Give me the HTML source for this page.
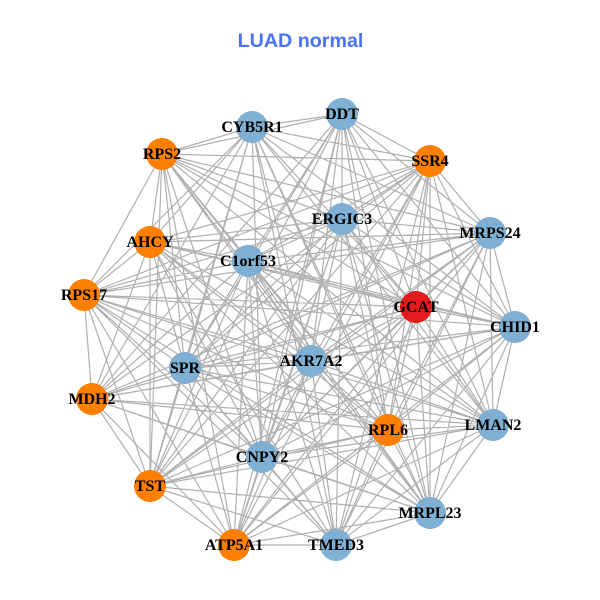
<!DOCTYPE html>
<html><head><meta charset="utf-8"><style>
html,body{margin:0;padding:0;background:#fff}
svg{display:block}
.n text{font:bold 16px "Liberation Serif",serif;text-anchor:middle;fill:#000}
</style></head><body>
<svg width="600" height="600" viewBox="0 0 600 600" xmlns="http://www.w3.org/2000/svg">
<rect width="600" height="600" fill="#fff"/>
<text x="300.5" y="47" text-anchor="middle" style="font:bold 19.7px 'Liberation Sans',sans-serif" fill="#4a72f2">LUAD normal</text>
<path fill="none" stroke="#b0b0b0" stroke-width="1.2" d="
M342 114L252 127M342 114L162 154M342 114L430 161M342 114L342 219M342 114L490 233M342 114L248 261M342 114L416 307M342 114L515 327M342 114L311 361M342 114L185 368M342 114L92 399M342 114L493 425M342 114L388 430M342 114L262 457M342 114L150 486M342 114L430 513M342 114L234 545
M252 127L162 154M252 127L430 161M252 127L490 233M252 127L150 242M252 127L84 295M252 127L416 307M252 127L515 327M252 127L311 361M252 127L185 368M252 127L92 399M252 127L493 425M252 127L388 430M252 127L262 457M252 127L150 486M252 127L430 513M252 127L336 545
M162 154L430 161M162 154L342 219M162 154L490 233M162 154L150 242M162 154L248 261M162 154L84 295M162 154L416 307M162 154L515 327M162 154L311 361M162 154L185 368M162 154L493 425M162 154L388 430M162 154L262 457M162 154L150 486M162 154L430 513M162 154L234 545
M430 161L342 219M430 161L490 233M430 161L150 242M430 161L248 261M430 161L84 295M430 161L416 307M430 161L515 327M430 161L311 361M430 161L185 368M430 161L92 399M430 161L493 425M430 161L388 430M430 161L262 457M430 161L150 486M430 161L430 513M430 161L234 545M430 161L336 545
M342 219L490 233M342 219L150 242M342 219L248 261M342 219L84 295M342 219L416 307M342 219L515 327M342 219L311 361M342 219L185 368M342 219L493 425M342 219L388 430M342 219L262 457M342 219L150 486M342 219L430 513M342 219L234 545M342 219L336 545
M490 233L150 242M490 233L248 261M490 233L84 295M490 233L416 307M490 233L515 327M490 233L311 361M490 233L185 368M490 233L92 399M490 233L493 425M490 233L388 430M490 233L262 457M490 233L150 486M490 233L430 513M490 233L234 545M490 233L336 545
M150 242L248 261M150 242L84 295M150 242L416 307M150 242L515 327M150 242L311 361M150 242L185 368M150 242L92 399M150 242L493 425M150 242L388 430M150 242L262 457M150 242L150 486M150 242L430 513M150 242L234 545M150 242L336 545
M248 261L84 295M248 261L416 307M248 261L515 327M248 261L311 361M248 261L185 368M248 261L92 399M248 261L493 425M248 261L388 430M248 261L262 457M248 261L150 486M248 261L430 513M248 261L234 545M248 261L336 545
M84 295L416 307M84 295L515 327M84 295L311 361M84 295L185 368M84 295L92 399M84 295L493 425M84 295L388 430M84 295L262 457M84 295L150 486M84 295L430 513M84 295L234 545M84 295L336 545
M416 307L515 327M416 307L311 361M416 307L185 368M416 307L92 399M416 307L493 425M416 307L388 430M416 307L262 457M416 307L150 486M416 307L430 513M416 307L234 545M416 307L336 545
M515 327L311 361M515 327L185 368M515 327L92 399M515 327L493 425M515 327L388 430M515 327L262 457M515 327L150 486M515 327L430 513M515 327L234 545M515 327L336 545
M311 361L185 368M311 361L92 399M311 361L493 425M311 361L388 430M311 361L262 457M311 361L150 486M311 361L430 513M311 361L234 545M311 361L336 545
M185 368L92 399M185 368L493 425M185 368L388 430M185 368L262 457M185 368L150 486M185 368L430 513M185 368L234 545M185 368L336 545
M92 399L493 425M92 399L388 430M92 399L262 457M92 399L150 486M92 399L430 513M92 399L234 545
M493 425L388 430M493 425L262 457M493 425L150 486M493 425L430 513M493 425L234 545M493 425L336 545
M388 430L262 457M388 430L150 486M388 430L430 513M388 430L234 545M388 430L336 545
M262 457L150 486M262 457L430 513M262 457L234 545M262 457L336 545
M150 486L430 513M150 486L234 545M150 486L336 545
M430 513L234 545M430 513L336 545
M234 545L336 545"/>
<g fill="#7fb0d3" shape-rendering="crispEdges">
<circle cx="342" cy="114" r="16"/><circle cx="252" cy="127" r="16"/><circle cx="342" cy="219" r="16"/><circle cx="490" cy="233" r="16"/><circle cx="248" cy="261" r="16"/><circle cx="515" cy="327" r="16"/><circle cx="311" cy="361" r="16"/><circle cx="185" cy="368" r="16"/><circle cx="493" cy="425" r="16"/><circle cx="262" cy="457" r="16"/><circle cx="430" cy="513" r="16"/><circle cx="336" cy="545" r="16"/>
</g>
<g fill="#ff7f00" shape-rendering="crispEdges">
<circle cx="162" cy="154" r="16"/><circle cx="430" cy="161" r="16"/><circle cx="150" cy="242" r="16"/><circle cx="84" cy="295" r="16"/><circle cx="92" cy="399" r="16"/><circle cx="388" cy="430" r="16"/><circle cx="150" cy="486" r="16"/><circle cx="234" cy="545" r="16"/>
</g>
<circle cx="416" cy="307" r="16" fill="#e41a1c" shape-rendering="crispEdges"/>
<g class="n">
<text x="342" y="119">DDT</text>
<text x="252" y="132">CYB5R1</text>
<text x="162" y="159">RPS2</text>
<text x="430" y="166">SSR4</text>
<text x="342" y="224">ERGIC3</text>
<text x="490" y="238">MRPS24</text>
<text x="150" y="247">AHCY</text>
<text x="248" y="266">C1orf53</text>
<text x="84" y="300">RPS17</text>
<text x="416" y="312">GCAT</text>
<text x="515" y="332">CHID1</text>
<text x="311" y="366">AKR7A2</text>
<text x="185" y="373">SPR</text>
<text x="92" y="404">MDH2</text>
<text x="493" y="430">LMAN2</text>
<text x="388" y="435">RPL6</text>
<text x="262" y="462">CNPY2</text>
<text x="150" y="491">TST</text>
<text x="430" y="518">MRPL23</text>
<text x="234" y="550">ATP5A1</text>
<text x="336" y="550">TMED3</text>
</g>
</svg>
</body></html>
